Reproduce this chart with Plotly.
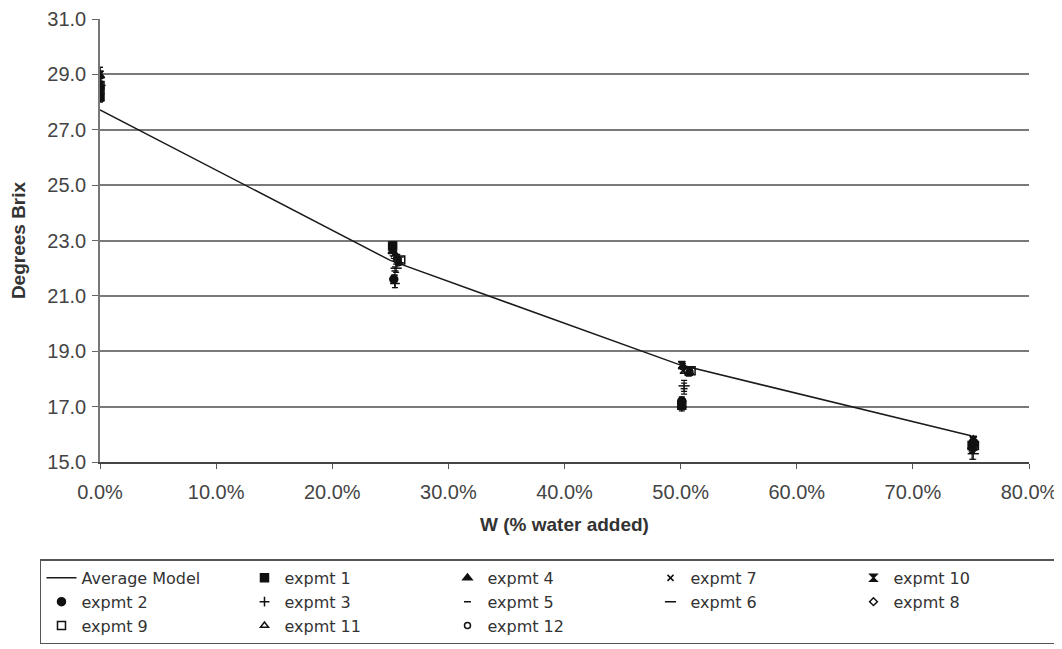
import plotly.graph_objects as go

# ---- data ----
model_x = [0.0, 0.25, 0.50, 0.75]
model_y = [27.72, 22.28, 18.50, 15.95]

names = ["expmt 1", "expmt 4", "expmt 7", "expmt 10",
         "expmt 2", "expmt 3", "expmt 5", "expmt 6", "expmt 8",
         "expmt 9", "expmt 11", "expmt 12"]
symbols = ["square", "triangle-up", "x-thin", "hourglass",
           "circle", "cross-thin", "line-ew", "line-ew", "diamond-open",
           "square-open", "triangle-up-open", "circle-open"]
sizes = [8, 8, 6, 7, 8, 7, 5, 8, 6, 8, 7, 6]

x_vals = {
    "expmt 1":  [0.000, 0.252, 0.501, 0.751],
    "expmt 4":  [0.000, 0.252, 0.502, 0.752],
    "expmt 7":  [0.000, 0.253, 0.502, 0.751],
    "expmt 10": [0.000, 0.252, 0.501, 0.752],
    "expmt 2":  [0.000, 0.253, 0.501, 0.752],
    "expmt 3":  [0.000, 0.254, 0.501, 0.751],
    "expmt 5":  [0.000, 0.254, 0.503, 0.751],
    "expmt 6":  [0.000, 0.255, 0.503, 0.752],
    "expmt 8":  [0.000, 0.256, 0.506, 0.753],
    "expmt 9":  [0.000, 0.259, 0.509, 0.753],
    "expmt 11": [0.000, 0.256, 0.507, 0.752],
    "expmt 12": [0.000, 0.257, 0.508, 0.753],
}
y_vals = {
    "expmt 1":  [28.20, 22.80, 17.05, 15.60],
    "expmt 4":  [28.95, 22.60, 18.45, 15.80],
    "expmt 7":  [28.80, 22.50, 18.30, 15.65],
    "expmt 10": [29.00, 22.70, 18.50, 15.80],
    "expmt 2":  [28.50, 21.60, 17.20, 15.70],
    "expmt 3":  [28.40, 21.45, 17.00, 15.50],
    "expmt 5":  [28.70, 21.90, 17.65, 15.40],
    "expmt 6":  [28.60, 22.00, 17.75, 15.30],
    "expmt 8":  [28.30, 22.30, 18.30, 15.70],
    "expmt 9":  [28.60, 22.30, 18.30, 15.60],
    "expmt 11": [28.10, 22.40, 18.20, 15.50],
    "expmt 12": [28.60, 22.20, 18.25, 15.60],
}
err_vals = {
    "expmt 1":  [0.15, 0.15, 0.15, 0.10],
    "expmt 4":  [0.30, 0.15, 0.10, 0.10],
    "expmt 7":  [0.15, 0.15, 0.10, 0.10],
    "expmt 10": [0.25, 0.15, 0.10, 0.10],
    "expmt 2":  [0.15, 0.15, 0.15, 0.10],
    "expmt 3":  [0.15, 0.15, 0.15, 0.15],
    "expmt 5":  [0.15, 0.15, 0.20, 0.30],
    "expmt 6":  [0.15, 0.15, 0.20, 0.20],
    "expmt 8":  [0.10, 0.10, 0.10, 0.10],
    "expmt 9":  [0.10, 0.10, 0.10, 0.10],
    "expmt 11": [0.10, 0.10, 0.10, 0.10],
    "expmt 12": [0.10, 0.10, 0.10, 0.10],
}

x_ticks = [0.0, 0.1, 0.2, 0.3, 0.4, 0.5, 0.6, 0.7, 0.8]
y_ticks = [15, 17, 19, 21, 23, 25, 27, 29, 31]

fig = go.Figure()

fig.add_trace(go.Scatter(
    x=model_x, y=model_y, mode="lines", name="Average Model",
    line=dict(color="#1a1a1a", width=1.5),
))

for name, sym, sz in zip(names, symbols, sizes):
    fig.add_trace(go.Scatter(
        x=x_vals[name], y=y_vals[name], mode="markers", name=name,
        marker=dict(symbol=sym, size=sz, color="#111111",
                    line=dict(color="#111111", width=1.5)),
        error_y=dict(type="data", array=err_vals[name], color="#111111",
                     thickness=1.2, width=3),
    ))

font_family = "Liberation Sans, Arial, sans-serif"

# page body has an 8px margin, so the figure is offset by 8px
fig.update_layout(
    width=1062, height=649,
    paper_bgcolor="white", plot_bgcolor="white",
    margin=dict(l=92, r=41, t=11, b=195, autoexpand=False),
    font=dict(family=font_family, size=20, color="#333333"),
    xaxis=dict(
        range=[0, 0.8], tickvals=x_ticks, tickformat=".1%",
        showgrid=False, zeroline=False, automargin=False,
        showline=True, linecolor="#444444", linewidth=1.5,
        ticks="outside", ticklen=5, tickcolor="#555555",
        ticklabelstandoff=6,
        title=dict(text="<b>W (% water added)</b>", standoff=16,
                   font=dict(size=19, color="#333333")),
        tickfont=dict(size=20, color="#444444"),
    ),
    yaxis=dict(
        range=[15, 31], tickvals=y_ticks, tickformat=".1f",
        showgrid=True, gridcolor="#7a7a7a", gridwidth=1.5,
        zeroline=False, automargin=False,
        showline=True, linecolor="#777777", linewidth=1.5,
        ticks="outside", ticklen=6, tickcolor="#666666",
        ticklabelstandoff=2,
        title=dict(text="<b>Degrees Brix</b>", standoff=18,
                   font=dict(size=19, color="#333333")),
        tickfont=dict(size=20, color="#444444"),
    ),
    legend=dict(
        orientation="h",
        x=-0.0646, xanchor="left",
        y=-0.22, yanchor="top",
        entrywidth=158, entrywidthmode="pixels",
        bordercolor="#555555", borderwidth=1.5,
        bgcolor="white",
        font=dict(family="DejaVu Sans, sans-serif", size=16, color="#333333"),
        tracegroupgap=0,
    ),
    showlegend=True,
)

fig.write_html("out.html")
